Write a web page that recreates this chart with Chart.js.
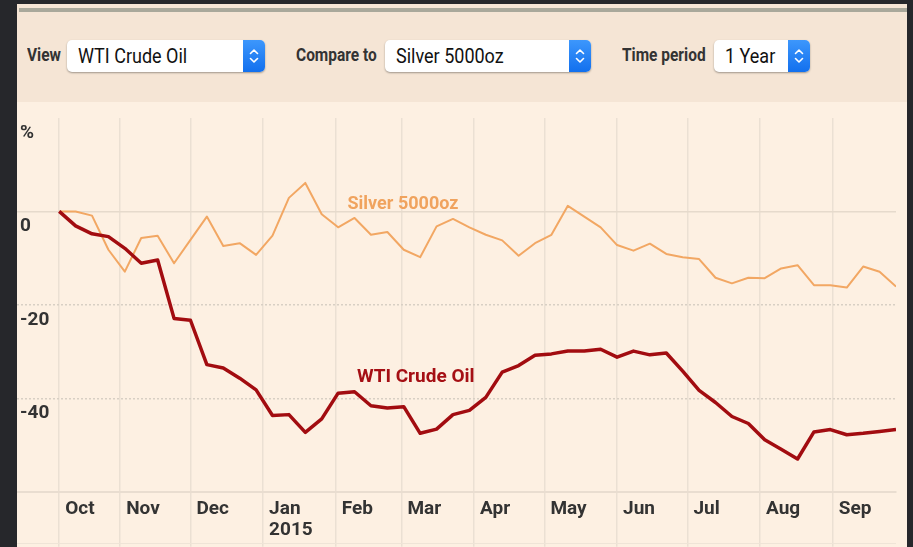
<!DOCTYPE html>
<html>
<head>
<meta charset="utf-8">
<script src="https://cdn.jsdelivr.net/npm/chart.js@4.4.1/dist/chart.umd.min.js"></script>
<style>
  body { margin: 0; width: 913px; height: 547px; overflow: hidden; background: #26272b; position: relative;
         font-family: Roboto, "Liberation Sans", sans-serif; }
  #panel { position: absolute; left: 17px; top: 4px; width: 890px; height: 98px; background: #f5e5d5; }
  #rule { position: absolute; left: 19px; top: 8px; width: 888px; height: 4px; background: #a9a89b; }
  .lbl { position: absolute; top: 44px; font-weight: bold; font-size: 18px; color: #333;
         transform: scaleX(0.86); transform-origin: left center; white-space: nowrap; }
  .sel { position: absolute; top: 40px; height: 32px; background: #fff; border-radius: 5px;
         box-shadow: 0 1px 2px rgba(0,0,0,0.35); font-size: 20px; color: #111; line-height: 32px; }
  .sel span { position: absolute; left: 11px; top: 0; white-space: nowrap;
              transform: scaleX(0.9); transform-origin: left center; }
  .btn { position: absolute; right: 0; top: 0; width: 22px; height: 32px; border-radius: 0 5px 5px 0;
         background: linear-gradient(#3d97fc, #1270ee); }
  .btn svg { position: absolute; left: 6px; top: 8px; }
  #wrap { position: absolute; left: 17px; top: 102px; width: 890px; height: 445px; background: #fdf0e2; }
  #foot { position: absolute; left: 17px; top: 543px; width: 879px; height: 1px; background: #efe4d7; }
</style>
</head>
<body>
<div id="panel"></div>
<div id="rule"></div>
<div class="lbl" style="left:27px">View</div>
<div class="sel" style="left:67px;width:198px"><span>WTI Crude Oil</span><div class="btn"></div></div>
<div class="lbl" style="left:296px">Compare to</div>
<div class="sel" style="left:385px;width:206px"><span>Silver 5000oz</span><div class="btn"></div></div>
<div class="lbl" style="left:622px">Time period</div>
<div class="sel" style="left:714px;width:96px"><span>1 Year</span><div class="btn"></div></div>
<div id="wrap"><canvas id="chart" width="890" height="445"></canvas></div>
<div id="foot"></div>
<script>
// weekly % change since 6 Oct 2014
const wti = [0, -3.1, -4.8, -5.4, -7.9, -11.1, -10.4, -22.9, -23.3, -32.8, -33.5, -35.7, -38.2,
  -43.7, -43.5, -47.3, -44.4, -38.9, -38.6, -41.6, -42.1, -41.8, -47.5, -46.6, -43.5, -42.6,
  -39.8, -34.4, -33.0, -30.8, -30.5, -29.9, -29.9, -29.5, -31.2, -29.9, -30.7, -30.3, -34.2,
  -38.3, -40.9, -43.9, -45.4, -48.9, -50.9, -53.0, -47.2, -46.7, -47.8, -47.5, -47.1, -46.7];
const silver = [0, 0, -0.9, -8.2, -12.9, -5.7, -5.2, -11.1, -6.1, -1.1, -7.4, -6.8, -9.3,
  -5.2, 2.9, 6.1, -0.6, -3.4, -1.4, -5.0, -4.4, -8.2, -9.8, -3.2, -1.6, -3.4,
  -5.0, -6.2, -9.5, -6.8, -5.0, 1.2, -1.1, -3.4, -7.2, -8.4, -6.9, -9.1, -9.8,
  -10.2, -14.2, -15.4, -14.2, -14.3, -12.2, -11.5, -15.8, -15.8, -16.3, -11.8, -12.9, -16.1];

// month gridlines, in days from the first week
const monthDays = [0, 26, 56, 87, 118, 146, 177, 207, 238, 268, 299, 330];
const monthLabels = ['Oct', 'Nov', 'Dec', ['Jan', '2015'], 'Feb', 'Mar', 'Apr', 'May', 'Jun', 'Jul', 'Aug', 'Sep'];
const yTicks = [20, 0, -20, -40];
const yTickLabels = ['%', '0', '-20', '-40'];

const toPoints = (arr) => arr.map((v, i) => ({ x: i * 7, y: v }));

// up/down chevrons for the fake select buttons
document.querySelectorAll('.btn').forEach(b => {
  b.innerHTML = '<svg width="10" height="16" viewBox="0 0 10 16"><path d="M1.5 5.5 L5 2 L8.5 5.5 M1.5 10.5 L5 14 L8.5 10.5" ' +
    'stroke="#fff" stroke-width="1.6" fill="none" stroke-linecap="round" stroke-linejoin="round"/></svg>';
});

const seriesLabels = {
  id: 'seriesLabels',
  afterDatasetsDraw(chart) {
    const { ctx, scales } = chart;
    const items = [
      { text: 'Silver 5000oz', x: 123, y: 1.5, color: '#f0a35e', size: 18 },
      { text: 'WTI Crude Oil', x: 127, y: -35.4, color: '#a50f14', size: 19 }
    ];
    ctx.save();
    items.forEach(it => {
      ctx.font = 'bold ' + it.size + 'px Roboto, sans-serif';
      ctx.fillStyle = it.color;
      ctx.textAlign = 'left';
      ctx.textBaseline = 'middle';
      ctx.fillText(it.text, scales.x.getPixelForValue(it.x), scales.y.getPixelForValue(it.y));
    });
    ctx.restore();
  }
};

const tickFont = { family: 'Roboto, sans-serif', size: 19, weight: 'bold', lineHeight: 1.1 };

new Chart(document.getElementById('chart'), {
  type: 'line',
  data: {
    datasets: [
      { label: 'WTI Crude Oil', data: toPoints(wti), borderColor: '#a20c10', borderWidth: 3.5, order: 0 },
      { label: 'Silver 5000oz', data: toPoints(silver), borderColor: '#f2a763', borderWidth: 2, order: 1 }
    ]
  },
  options: {
    responsive: false,
    animation: false,
    events: [],
    elements: { point: { radius: 0 }, line: { tension: 0, borderJoinStyle: 'round' } },
    layout: { padding: { left: 0, top: 16, right: 11, bottom: 0 } },
    plugins: { legend: { display: false }, tooltip: { enabled: false } },
    scales: {
      x: {
        type: 'linear', min: -18, max: 357,
        afterBuildTicks: (scale) => { scale.ticks = monthDays.map(v => ({ value: v })); },
        afterFit: (scale) => { scale.height = 55.3; },
        ticks: {
          autoSkip: false, maxRotation: 0, align: 'start', labelOffset: 6, padding: -48,
          color: '#333', font: tickFont,
          callback: (v, i) => monthLabels[i]
        },
        grid: { color: '#ebe0d3', lineWidth: 1.5, tickLength: 55 },
        border: { display: true, color: '#e9ddd0', width: 2 }
      },
      y: {
        type: 'linear', min: -60, max: 20,
        afterBuildTicks: (scale) => { scale.ticks = yTicks.map(v => ({ value: v })); },
        afterFit: (scale) => { scale.width = 0; },
        ticks: {
          mirror: true, padding: 3, labelOffset: 15, color: '#333', font: tickFont,
          callback: (v, i) => yTickLabels[i]
        },
        grid: {
          drawTicks: false, lineWidth: 1.5,
          color: (c) => c.tick && c.tick.value === 0 ? '#e6dacc' : (c.tick && c.tick.value < 0 ? '#d8cfc4' : 'rgba(0,0,0,0)')
        },
        border: {
          display: false,
          dash: (c) => c.tick && c.tick.value < 0 ? [2, 2] : []
        }
      }
    }
  },
  plugins: [seriesLabels]
});
</script>
</body>
</html>
